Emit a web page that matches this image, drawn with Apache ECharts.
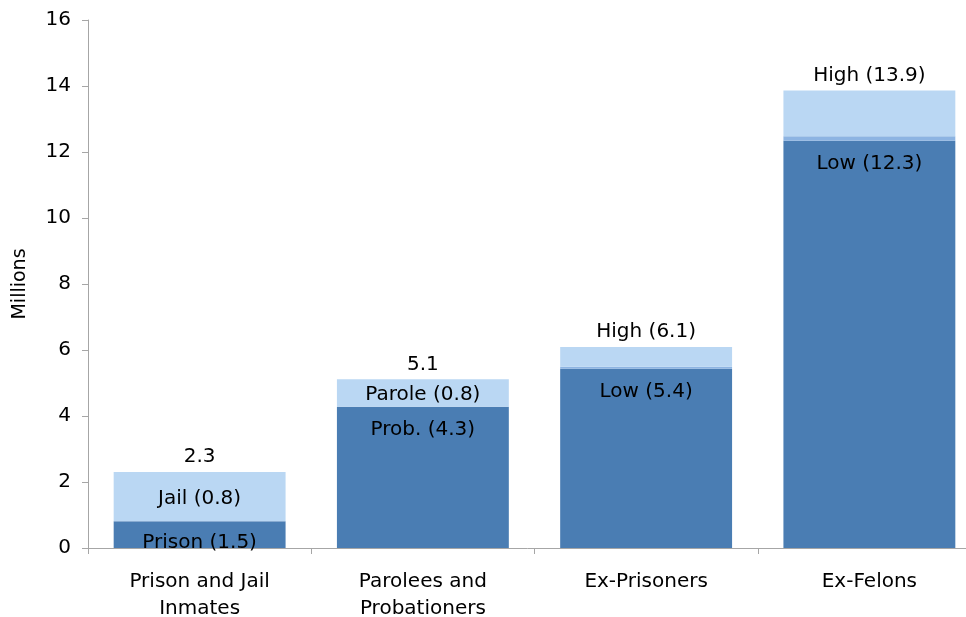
<!DOCTYPE html>
<html><head><meta charset="utf-8">
<script src="https://cdn.jsdelivr.net/npm/echarts@6/dist/echarts.min.js"></script>
<style>html,body{margin:0;padding:0;background:#fff}#c{width:966px;height:617px}</style>
</head><body><div id="c"></div>
<script>
var categories = ['Prison and Jail\nInmates', 'Parolees and\nProbationers', 'Ex-Prisoners', 'Ex-Felons'];
var lowValues = [0.81, 4.28, 5.43, 12.34];
var midValues = [0, 0, 0.06, 0.14];
var highValues = [1.49, 0.83, 0.60, 1.38];
var lowLabels = ['Prison (1.5)', 'Prob. (4.3)', 'Low (5.4)', 'Low (12.3)'];
var highLabels = ['Jail (0.8)', 'Parole (0.8)', '', ''];
var topLabels = ['2.3', '5.1', 'High (6.1)', 'High (13.9)'];
var yTicks = [0, 2, 4, 6, 8, 10, 12, 14, 16];

var FONT = 'DejaVu Sans';
var FS = 20;
var totals = lowValues.map(function (v, i) { return v + midValues[i] + highValues[i]; });

var chart = echarts.init(document.getElementById('c'), null, {renderer: 'canvas'});
var lowData = lowValues.map(function (v, i) {
  var d = {value: v};
  if (i === 0) d.label = {position: 'insideBottom', distance: -5};
  return d;
});
chart.setOption({
  animation: false,
  grid: {left: 88, top: 20, right: -15, bottom: 69, containLabel: false, outerBoundsMode: 'none'},
  xAxis: {
    type: 'category', data: categories,
    axisLine: {lineStyle: {color: '#a6a6a6'}},
    axisTick: {show: true, alignWithLabel: false, length: 6, lineStyle: {color: '#a6a6a6'}},
    axisLabel: {color: '#000', fontFamily: FONT, fontSize: FS, lineHeight: 27, margin: 20}
  },
  yAxis: {
    type: 'value', min: yTicks[0], max: yTicks[yTicks.length - 1], interval: 2,
    name: 'Millions', nameLocation: 'middle', nameGap: 58, nameRotate: 90,
    nameTextStyle: {color: '#000', fontFamily: FONT, fontSize: 19},
    axisLine: {show: true, lineStyle: {color: '#a6a6a6'}},
    axisTick: {show: true, length: 6, lineStyle: {color: '#a6a6a6'}},
    splitLine: {show: false},
    axisLabel: {color: '#000', fontFamily: FONT, fontSize: FS, margin: 17}
  },
  series: [
    {type: 'bar', stack: 's', data: lowData, barCategoryGap: '23%',
     itemStyle: {color: '#4a7db3'},
     label: {show: true, position: 'insideTop', distance: 13, color: '#000', fontFamily: FONT, fontSize: FS,
       formatter: function (p) { return lowLabels[p.dataIndex]; }}},
    {type: 'bar', stack: 's', data: midValues, itemStyle: {color: '#8db4e2'}},
    {type: 'bar', stack: 's', data: highValues,
     itemStyle: {color: '#bad7f3'},
     label: {show: true, position: 'inside', offset: [0, 2], color: '#000', fontFamily: FONT, fontSize: FS,
       formatter: function (p) { return highLabels[p.dataIndex]; }}},
    {type: 'scatter', symbolSize: 0, silent: true, data: totals.map(function (t, i) { return [i, t]; }),
     itemStyle: {color: '#000', opacity: 1},
     label: {show: true, position: 'top', distance: 5, color: '#000', fontFamily: FONT, fontSize: FS,
       formatter: function (p) { return topLabels[p.dataIndex]; }}}
  ]
});
</script></body></html>
